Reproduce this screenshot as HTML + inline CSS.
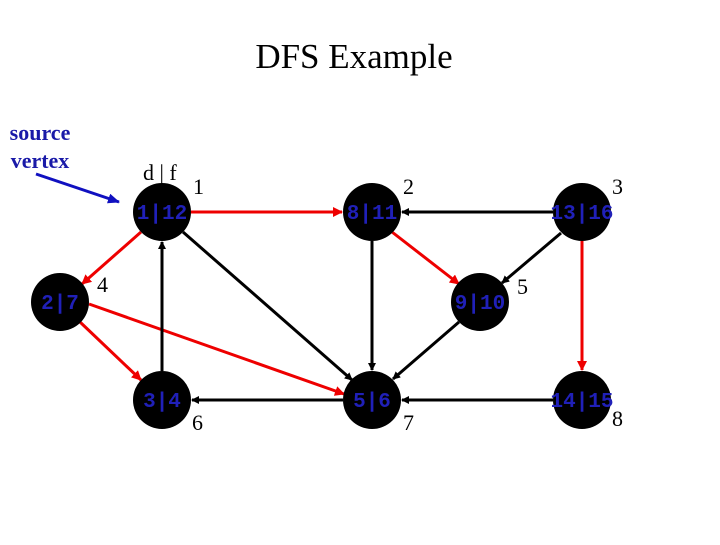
<!DOCTYPE html>
<html><head><style>body{margin:0;background:#fff}</style></head><body>
<svg width="720" height="540" xmlns="http://www.w3.org/2000/svg">
<defs>
<marker id="ab" markerWidth="8" markerHeight="8" refX="7" refY="4" orient="auto" markerUnits="userSpaceOnUse"><path d="M0,0L8,4L0,8z" fill="#000"/></marker>
<marker id="ar" markerWidth="10" markerHeight="10" refX="9" refY="5" orient="auto" markerUnits="userSpaceOnUse"><path d="M0,0L10,5L0,10z" fill="#e00"/></marker>
<marker id="au" markerWidth="12" markerHeight="10" refX="11" refY="5" orient="auto" markerUnits="userSpaceOnUse"><path d="M0,0L12,5L0,10z" fill="#1010c0"/></marker>
</defs>
<text x="354" y="68" font-family="Liberation Serif" font-size="35" text-anchor="middle">DFS Example</text>
<text x="40" y="140" font-family="Liberation Serif" font-size="22" font-weight="bold" fill="#1a1aa8" text-anchor="middle">source</text>
<text x="40" y="168" font-family="Liberation Serif" font-size="22" font-weight="bold" fill="#1a1aa8" text-anchor="middle">vertex</text>
<line x1="36" y1="174" x2="119" y2="202" stroke="#1010c0" stroke-width="3" marker-end="url(#au)"/>
<g stroke-width="3" fill="none">
<line x1="191" y1="212" x2="342" y2="212" stroke="#e00" marker-end="url(#ar)"/>
<line x1="141" y1="232" x2="82" y2="284" stroke="#e00" marker-end="url(#ar)"/>
<line x1="80" y1="322" x2="141" y2="380" stroke="#e00" marker-end="url(#ar)"/>
<line x1="89" y1="304" x2="344" y2="394" stroke="#e00" marker-end="url(#ar)"/>
<line x1="392" y1="232" x2="459" y2="284" stroke="#e00" marker-end="url(#ar)"/>
<line x1="582" y1="241" x2="582" y2="370" stroke="#e00" marker-end="url(#ar)"/>
<line x1="162" y1="371" x2="162" y2="242" stroke="#000" marker-end="url(#ab)"/>
<line x1="183" y1="232" x2="352" y2="380" stroke="#000" marker-end="url(#ab)"/>
<line x1="343" y1="400" x2="192" y2="400" stroke="#000" marker-end="url(#ab)"/>
<line x1="372" y1="241" x2="372" y2="370" stroke="#000" marker-end="url(#ab)"/>
<line x1="459" y1="322" x2="393" y2="379" stroke="#000" marker-end="url(#ab)"/>
<line x1="553" y1="212" x2="402" y2="212" stroke="#000" marker-end="url(#ab)"/>
<line x1="561" y1="233" x2="502" y2="283" stroke="#000" marker-end="url(#ab)"/>
<line x1="553" y1="400" x2="402" y2="400" stroke="#000" marker-end="url(#ab)"/>
</g>
<g fill="#000">
<circle cx="162" cy="212" r="29"/><circle cx="60" cy="302" r="29"/><circle cx="162" cy="400" r="29"/>
<circle cx="372" cy="212" r="29"/><circle cx="480" cy="302" r="29"/><circle cx="582" cy="212" r="29"/>
<circle cx="372" cy="400" r="29"/><circle cx="582" cy="400" r="29"/>
</g>
<g font-family="Liberation Mono" font-size="21" font-weight="bold" fill="#2020b8" text-anchor="middle" letter-spacing="0">
<text x="162" y="219">1|12</text><text x="60" y="309">2|7</text><text x="162" y="407">3|4</text>
<text x="372" y="219">8|11</text><text x="480" y="309">9|10</text><text x="582" y="219">13|16</text>
<text x="372" y="407">5|6</text><text x="582" y="407">14|15</text>
</g>
<g font-family="Liberation Serif" font-size="22" fill="#000">
<text x="143" y="180">d | f</text>
<text x="193" y="194">1</text><text x="403" y="194">2</text><text x="612" y="194">3</text>
<text x="97" y="292">4</text><text x="517" y="294">5</text>
<text x="192" y="430">6</text><text x="403" y="430">7</text><text x="612" y="426">8</text>
</g>
</svg>
</body></html>
